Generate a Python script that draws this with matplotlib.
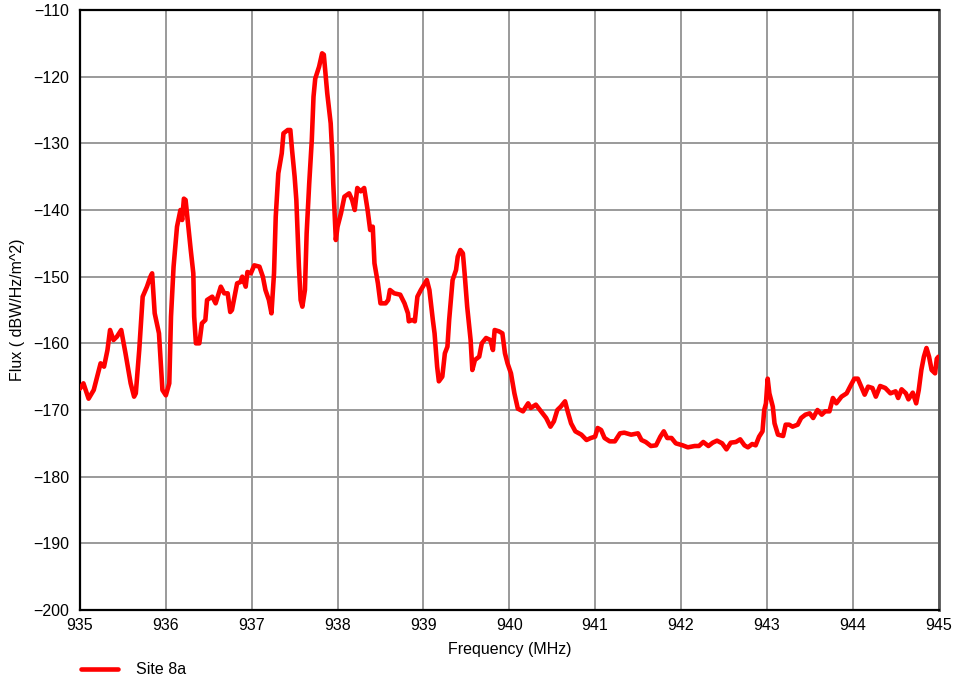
import matplotlib
matplotlib.use("Agg")
import matplotlib.pyplot as plt
from matplotlib.ticker import FuncFormatter

plt.rcParams['font.family'] = ['Liberation Sans', 'DejaVu Sans']

# Measured spectrum, Site 8a
freq_mhz = [
    935.00, 935.04, 935.10, 935.16, 935.24, 935.28, 935.32, 935.35, 935.39, 935.43,
    935.48, 935.53, 935.59, 935.63, 935.65, 935.69, 935.73, 935.78, 935.82, 935.84,
    935.87, 935.92, 935.96, 936.00, 936.04, 936.06, 936.09, 936.13, 936.17, 936.19,
    936.21, 936.23, 936.27, 936.29, 936.32, 936.33, 936.35, 936.39, 936.42, 936.46,
    936.48, 936.54, 936.58, 936.64, 936.68, 936.72, 936.75, 936.77, 936.83, 936.87,
    936.89, 936.93, 936.95, 936.99, 937.03, 937.09, 937.13, 937.16, 937.20, 937.23,
    937.26, 937.28, 937.31, 937.35, 937.37, 937.42, 937.45, 937.47, 937.50, 937.52,
    937.55, 937.57, 937.59, 937.62, 937.64, 937.67, 937.70, 937.72, 937.74, 937.785,
    937.82, 937.84, 937.88, 937.92, 937.94, 937.95, 937.98, 938.00, 938.04, 938.08,
    938.135, 938.17, 938.20, 938.23, 938.27, 938.31, 938.35, 938.38, 938.41, 938.43,
    938.47, 938.50, 938.56, 938.59, 938.61, 938.66, 938.73, 938.78, 938.82, 938.83,
    938.87, 938.90, 938.93, 938.97, 939.04, 939.07, 939.11, 939.13, 939.16, 939.18,
    939.22, 939.25, 939.28, 939.30, 939.34, 939.38, 939.40, 939.43, 939.46, 939.48,
    939.51, 939.55, 939.57, 939.60, 939.65, 939.68, 939.73, 939.78, 939.81, 939.83,
    939.88, 939.92, 939.95, 939.98, 940.02, 940.06, 940.10, 940.16, 940.22, 940.25,
    940.31, 940.37, 940.43, 940.48, 940.52, 940.56, 940.60, 940.65, 940.68, 940.72,
    940.77, 940.84, 940.90, 940.95, 941.00, 941.03, 941.07, 941.11, 941.17, 941.23,
    941.29, 941.34, 941.42, 941.50, 941.54, 941.59, 941.65, 941.71, 941.76, 941.80,
    941.84, 941.89, 941.94, 942.02, 942.08, 942.16, 942.21, 942.26, 942.32, 942.37,
    942.42, 942.48, 942.53, 942.58, 942.64, 942.69, 942.74, 942.78, 942.83, 942.87,
    942.91, 942.95, 942.97, 942.99, 943.01, 943.03, 943.07, 943.09, 943.13, 943.19,
    943.22, 943.26, 943.30, 943.36, 943.40, 943.45, 943.50, 943.54, 943.59, 943.64,
    943.68, 943.73, 943.77, 943.81, 943.87, 943.93, 943.97, 944.02, 944.06, 944.10,
    944.14, 944.18, 944.23, 944.27, 944.32, 944.38, 944.44, 944.50, 944.53, 944.57,
    944.62, 944.65, 944.70, 944.74, 944.77, 944.80, 944.83, 944.86, 944.89, 944.92,
    944.96, 944.98, 945.00,
]
flux_dbw = [
    -166.8, -166.0, -168.3, -167.0, -163.0, -163.5, -161.0, -158.0, -159.5, -159.0,
    -158.0, -161.5, -166.0, -168.0, -167.5, -161.0, -153.0, -151.5, -150.0, -149.5,
    -155.5, -158.5, -167.0, -167.8, -166.0, -156.0, -148.5, -142.5, -140.0, -141.5,
    -138.3, -138.5, -143.5, -146.0, -149.5, -156.0, -160.0, -160.0, -157.0, -156.5,
    -153.5, -153.0, -154.0, -151.5, -152.5, -152.5, -155.3, -155.0, -151.0, -150.8,
    -150.0, -151.5, -149.3, -149.5, -148.3, -148.5, -150.0, -152.0, -153.5, -155.5,
    -149.5, -141.0, -134.5, -131.5, -128.5, -128.0, -128.0, -131.0, -135.0, -138.5,
    -148.5, -153.5, -154.5, -152.0, -143.5, -136.0, -129.5, -123.0, -120.3, -118.5,
    -116.5, -116.7, -122.5, -127.0, -132.0, -136.0, -144.5, -142.5, -140.5, -138.0,
    -137.5, -138.5, -140.0, -136.7, -137.2, -136.7, -140.0, -143.0, -142.5, -148.0,
    -151.0, -154.0, -154.0, -153.5, -152.0, -152.5, -152.7, -154.0, -155.5, -156.7,
    -156.5, -156.7, -153.0, -152.0, -150.5, -152.0, -156.5, -158.5, -163.5, -165.7,
    -165.0, -161.5, -160.5, -156.5, -150.5, -149.0, -147.0, -146.0, -146.5, -149.5,
    -154.5, -159.5, -164.0, -162.5, -162.0, -160.0, -159.2, -159.5, -161.0, -158.0,
    -158.2, -158.5, -161.5, -163.0, -164.5, -167.5, -169.8, -170.2, -169.0, -169.7,
    -169.2, -170.2, -171.2, -172.5, -171.7, -170.0, -169.5, -168.7, -170.2, -172.0,
    -173.2, -173.7, -174.5, -174.2, -174.0, -172.7, -173.0, -174.2, -174.7, -174.7,
    -173.5, -173.4, -173.7, -173.5, -174.5, -174.8, -175.4, -175.3, -174.0, -173.2,
    -174.2, -174.2, -175.0, -175.3, -175.6, -175.4, -175.4, -174.8, -175.4, -174.9,
    -174.6, -175.0, -175.9, -174.9, -174.8, -174.4, -175.3, -175.6, -175.1, -175.3,
    -174.0, -173.2, -170.0, -169.0, -165.3, -167.5, -169.5, -172.0, -173.7, -173.9,
    -172.2, -172.2, -172.5, -172.2, -171.2, -170.7, -170.5, -171.2, -170.0, -170.7,
    -170.2, -170.2, -168.2, -169.0, -168.0, -167.5, -166.5, -165.3, -165.3, -166.5,
    -167.7, -166.5, -166.7, -168.0, -166.4, -166.7, -167.5, -167.2, -168.2, -166.9,
    -167.5, -168.4, -167.4, -169.0, -167.0, -164.0, -162.0, -160.7, -162.0, -164.0,
    -164.5, -162.3, -162.0,
]

x_ticks = [935, 936, 937, 938, 939, 940, 941, 942, 943, 944, 945]
y_ticks = [-200, -190, -180, -170, -160, -150, -140, -130, -120, -110]

fig = plt.figure(figsize=(9.56, 6.81), dpi=100)
ax = fig.add_axes([80 / 956, 1 - 610 / 681, 858.5 / 956, 600 / 681])

line, = ax.plot(freq_mhz, flux_dbw, color='#ff0000', linewidth=3.3,
                solid_joinstyle='round', solid_capstyle='round', label='Site 8a',
                zorder=3)

ax.set_xlim(935, 945)
ax.set_ylim(-200, -110)
ax.set_xticks(x_ticks)
ax.set_yticks(y_ticks)
ax.yaxis.set_major_formatter(FuncFormatter(lambda v, p: f"{int(v)}".replace('-', '\u2212')))
ax.grid(True, color='#9a9a9a', linewidth=1.4, zorder=0)
ax.tick_params(axis='both', length=0, labelsize=11.5, colors='black')
ax.tick_params(axis='x', pad=6)
ax.tick_params(axis='y', pad=8)

for side in ['left', 'bottom', 'top']:
    ax.spines[side].set_color('black')
    ax.spines[side].set_linewidth(1.6)
ax.spines['right'].set_color('#555555')
ax.spines['right'].set_linewidth(2.0)

ax.set_xlabel('Frequency (MHz)', fontsize=11.5, labelpad=6)
ax.set_ylabel('Flux ( dBW/Hz/m^2)', fontsize=11.5)
ax.yaxis.set_label_coords(-0.064, 0.5)

fig.legend(handles=[line], loc='center left',
           bbox_to_anchor=(67 / 956, 1 - 670 / 681),
           frameon=False, fontsize=11.5, handlelength=2.3, handletextpad=1.1)

fig.savefig('out.png', dpi=100)
